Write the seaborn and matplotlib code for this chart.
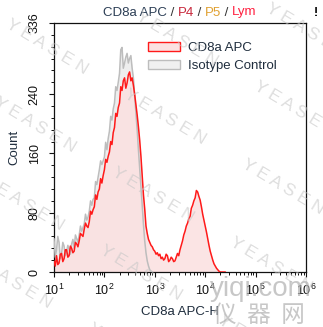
import numpy as np
import pandas as pd
import matplotlib
matplotlib.use("Agg")
import matplotlib.pyplot as plt
import seaborn as sns
from matplotlib.patches import Patch
from matplotlib.ticker import MultipleLocator, LogLocator, NullFormatter, FixedLocator, FixedFormatter

# ---------------- data ----------------
# histogram channels: log10 bin centres start at 1.0, one bin every 0.025 decade
log_start = 1.0
log_step = 0.025
cd8a_counts = [15, 8, 22, 10, 12, 24, 25, 14, 18, 30,
               30, 20, 22, 35, 32, 26, 28, 40, 38, 34,
               42, 52, 50, 48, 58, 66, 62, 60, 68, 82,
               78, 84, 88, 104, 98, 108, 112, 126, 120, 130,
               138, 152, 148, 156, 162, 176, 172, 188, 195, 214,
               210, 222, 228, 250, 245, 258, 262, 248, 255, 266,
               270, 258, 262, 252, 240, 226, 212, 196, 178, 156,
               130, 104, 85, 62, 52, 44, 40, 36, 34, 30,
               28, 24, 26, 22, 24, 18, 20, 16, 18, 24,
               22, 14, 16, 20, 18, 14, 15, 20, 25, 22,
               30, 36, 42, 50, 55, 62, 66, 72, 75, 86,
               90, 96, 100, 110, 108, 102, 97, 88, 78, 70,
               62, 54, 45, 36, 28, 22, 16, 11, 8, 5,
               3, 1, 0, 0, 0, 0, 0]
isotype_counts = [45, 20, 30, 48, 40, 18, 25, 40, 35, 22,
                  28, 36, 30, 24, 38, 44, 32, 50, 45, 40,
                  50, 62, 55, 60, 65, 78, 70, 74, 82, 96,
                  90, 98, 100, 122, 118, 128, 138, 150, 145, 150,
                  155, 175, 165, 180, 190, 210, 205, 220, 228, 250,
                  245, 256, 268, 300, 303, 275, 282, 290, 295, 282,
                  288, 292, 275, 262, 238, 215, 192, 165, 140, 115,
                  90, 64, 42, 26, 15, 8, 3, 1, 0]
series_names = ["CD8a APC", "Isotype Control"]
title_parts = ["CD8a APC", " / ", "P4", " / ", "P5", " / ", "Lym"]
x_label = "CD8a APC-H"
y_label = "Count"
y_ticks = [0, 80, 160, 240, 336]
y_tick_labels = ["0", "80", "160", "240", "336"]
x_ticks = [1e1, 1e2, 1e3, 1e4, 1e5, 1e6]
x_tick_labels = [r"$\mathregular{10^{1}}$", r"$\mathregular{10^{2}}$", r"$\mathregular{10^{3}}$",
                 r"$\mathregular{10^{4}}$", r"$\mathregular{10^{5}}$", r"$\mathregular{10^{6}}$"]

# ---------------- styling ----------------
sns.set_style("white")
plt.rcParams["font.family"] = ["Liberation Sans", "DejaVu Sans"]
plt.rcParams["mathtext.fontset"] = "custom"
plt.rcParams["mathtext.rm"] = "Liberation Sans"

W, H = 323, 327
fig = plt.figure(figsize=(W / 100, H / 100), dpi=100)
ax = fig.add_axes([54 / W, 1 - 272 / H, (306 - 54) / W, (272 - 23) / H])

df_cd8 = pd.DataFrame({
    "value": 10 ** (log_start + log_step * np.arange(len(cd8a_counts))),
    "count": cd8a_counts,
})
df_iso = pd.DataFrame({
    "value": 10 ** (log_start + log_step * np.arange(len(isotype_counts))),
    "count": isotype_counts,
})

red_line = "#ff1a1a"
red_fill = "#fbe1e1"
gray_line = "#bdbdbd"
gray_fill = "#eeeeee"

ax.fill_between(df_iso["value"], df_iso["count"], color=gray_fill, lw=0, zorder=1)
ax.fill_between(df_cd8["value"], df_cd8["count"], color=red_fill, lw=0, alpha=0.9, zorder=2)
sns.lineplot(data=df_iso, x="value", y="count", color=gray_line, lw=1.1, ax=ax, zorder=3)
sns.lineplot(data=df_cd8, x="value", y="count", color=red_line, lw=1.1, ax=ax, zorder=4)

ax.set_xscale("log")
ax.set_xlim(1e1, 1e6)
ax.set_ylim(0, 336)

ax.xaxis.set_major_locator(FixedLocator(x_ticks))
ax.xaxis.set_major_formatter(FixedFormatter(x_tick_labels))
ax.xaxis.set_minor_locator(LogLocator(base=10, subs=np.arange(2, 10)))
ax.xaxis.set_minor_formatter(NullFormatter())
ax.yaxis.set_major_locator(FixedLocator(y_ticks))
ax.yaxis.set_major_formatter(FixedFormatter(y_tick_labels))
ax.yaxis.set_minor_locator(MultipleLocator(16))

ax.tick_params(axis="both", which="major", direction="out", length=3.5, width=0.8,
               colors="#111111", labelsize=9, bottom=True, left=True, top=False, right=False)
ax.tick_params(axis="both", which="minor", direction="out", length=2, width=0.7,
               colors="#111111", bottom=True, left=True, top=False, right=False)
ax.tick_params(axis="y", which="major", pad=6)
ax.tick_params(axis="x", which="major", pad=4)
for lab in ax.get_yticklabels():
    lab.set_rotation(90)
    lab.set_va("center")
for s in ax.spines.values():
    s.set_color("#111111")
    s.set_linewidth(0.9)

ax.set_xlabel(x_label, fontsize=9.5, color="#1f2d3d", labelpad=6)
ax.set_ylabel(y_label, fontsize=9.5, color="#1f2d3d", labelpad=6)

handles = [Patch(facecolor=red_fill, edgecolor=red_line, lw=1.0),
           Patch(facecolor="#f0f0f0", edgecolor=gray_line, lw=1.0)]
leg = ax.legend(handles, series_names, loc="upper left", bbox_to_anchor=(0.373, 0.923),
                frameon=False, fontsize=9.5, borderaxespad=0, borderpad=0,
                handlelength=2.4, handleheight=0.7, handletextpad=0.6, labelspacing=0.4)
for t in leg.get_texts():
    t.set_color("#1f2d3d")

# ---------------- multi-coloured title ----------------
title_colors = ["#2c3e55", "#333333", "#c8283c", "#333333", "#e0a030", "#333333", "#ff2040"]
fig.canvas.draw()
renderer = fig.canvas.get_renderer()
texts, widths = [], []
for s, c in zip(title_parts, title_colors):
    t = fig.text(0, 0, s, color=c, fontsize=9.5, va="baseline", ha="left")
    texts.append(t)
    widths.append(t.get_window_extent(renderer).width)
x0 = (54 + 306) / 2 - sum(widths) / 2
for t, w in zip(texts, widths):
    t.set_position((x0 / W, 1 - 15.5 / H))
    x0 += w

fig.text(316 / W, 1 - 13 / H, "!", fontsize=9, fontweight="bold", color="black",
         ha="center", va="center")

# ---------------- watermarks ----------------
wm = "Y E A S E N"
for j in range(-2, 6):
    for i in range(-2, 5):
        px = 7 + i * 118 - j * 12
        py = 23 + i * 70 + j * 78
        if -120 < px < W + 20 and -80 < py < H + 40:
            fig.text(px / W, 1 - py / H, wm, fontsize=12.5, color="#c8c8c8", alpha=0.6,
                     rotation=-31, rotation_mode="anchor", ha="left", va="center", zorder=10)

fig.text(210 / W, 1 - 289 / H, "yiqi.com", fontsize=20, color="#b0b0b0", alpha=0.7,
         ha="left", va="center", zorder=11)
fig.text(213 / W, 1 - 315 / H, "仪  器  网", fontsize=17, color="#b0b0b0", alpha=0.7,
         ha="left", va="center", zorder=11, family=["Noto Sans CJK SC", "DejaVu Sans"])

fig.savefig("out.png", dpi=100)
